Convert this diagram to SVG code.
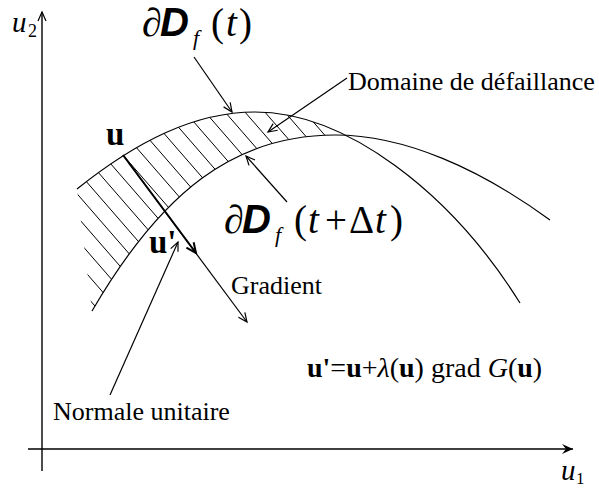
<svg xmlns="http://www.w3.org/2000/svg" width="599" height="488" viewBox="0 0 599 488">
<style>
.ln{fill:none;stroke:#000;stroke-width:1.2}
.ht{fill:none;stroke:#000;stroke-width:1}
.ax{fill:none;stroke:#000;stroke-width:1.4}
.tm{font-family:"Liberation Serif","Times New Roman",serif;fill:#000}
.sn{font-family:"Liberation Sans",Arial,sans-serif;font-style:italic;font-weight:bold}
.it{font-style:italic}
.bd{font-weight:bold}
</style>
<defs>
<marker id="ah" viewBox="-11 -6 13 12" refX="0" refY="0" markerWidth="13" markerHeight="12" orient="auto" markerUnits="userSpaceOnUse">
<path d="M-9,-4 L0,0 L-9,4" fill="none" stroke="#000" stroke-width="1.2"/>
</marker>
<marker id="ahb" viewBox="-12 -7 14 14" refX="0" refY="0" markerWidth="14" markerHeight="14" orient="auto" markerUnits="userSpaceOnUse">
<path d="M-10,-4.5 L0,0 L-10,4.5" fill="none" stroke="#000" stroke-width="2"/>
</marker>
<marker id="dart" viewBox="-12 -6 13 12" refX="0" refY="0" markerWidth="13" markerHeight="12" orient="auto" markerUnits="userSpaceOnUse">
<path d="M0,0 L-11,-5 L-7,0 L-11,5 Z" fill="#000"/>
</marker>
<clipPath id="belowA">
<path d="M77,189 C137,141 195,112 255,112 C345,112 450,191 520,303 L599,303 L599,488 L114,488 Z"/>
</clipPath>
<clipPath id="aboveB">
<path d="M92,311 C162,191 235,135 335,135 C405,135 480,169 550,220 L599,220 L599,0 L0,0 L0,311 Z"/>
</clipPath>
</defs>
<rect width="599" height="488" fill="#fff"/>

<g id="axes">
<line class="ax" x1="42" y1="471" x2="42" y2="12" marker-end="url(#ah)"/>
<line class="ax" x1="28" y1="449" x2="573" y2="449" marker-end="url(#dart)"/>
</g>

<g id="hatching" clip-path="url(#belowA)">
<g clip-path="url(#aboveB)">
<path class="ht" d="M40,-192.4 L420,244.7 M40,-169.5 L420,267.6 M40,-146.6 L420,290.5 M40,-123.7 L420,313.4 M40,-100.8 L420,336.3 M40,-77.9 L420,359.2 M40,-55 L420,382.1 M40,-32.1 L420,405 M40,-9.2 L420,427.9 M40,13.8 L420,450.8 M40,36.7 L420,473.7 M40,59.6 L420,496.6 M40,82.5 L420,519.5 M40,105.4 L420,542.4 M40,128.3 L420,565.3 M40,151.2 L420,588.2 M40,174.1 L420,611.1 M40,197 L420,634 M40,219.9 L420,656.9 M40,242.8 L420,679.8"/>
</g>
</g>

<g id="curves">
<path id="curve-t" class="ln" d="M77,189 C137,141 195,112 255,112 C345,112 450,191 520,303"/>
<path id="curve-tdt" class="ln" d="M92,311 C162,191 235,135 335,135 C405,135 480,169 550,220"/>
</g>

<g id="connectors">
<line class="ln" x1="194" y1="57" x2="232" y2="112" marker-end="url(#ah)"/>
<line class="ln" x1="347" y1="78" x2="268" y2="132" marker-end="url(#ah)"/>
<line class="ln" x1="287" y1="202" x2="246" y2="156" marker-end="url(#ah)"/>
<line class="ln" x1="123" y1="155" x2="247" y2="322" marker-end="url(#ah)"/>
<line x1="123" y1="155" x2="196" y2="253" stroke="#000" stroke-width="2" marker-end="url(#ahb)"/>
<line class="ln" x1="110" y1="395" x2="178" y2="242" marker-end="url(#ah)"/>
</g>

<g id="label-u2">
<text class="tm" x="12" y="32" font-size="29"><tspan class="it">u</tspan><tspan x="28" y="37" font-size="18">2</tspan></text>
</g>
<g id="label-u1">
<text class="tm" x="561" y="480" font-size="29"><tspan class="it">u</tspan><tspan x="576" y="484" font-size="17">1</tspan></text>
</g>

<g id="label-dDf-t">
<text class="tm" y="36" font-size="40"><tspan x="142">∂</tspan><tspan class="sn" x="160">D</tspan><tspan class="it" x="193" y="45" font-size="22">f</tspan><tspan x="211" y="36" font-size="39">(</tspan><tspan class="it" x="226" font-size="39">t</tspan><tspan x="239" font-size="39">)</tspan></text>
</g>

<g id="label-dDf-tdt">
<text class="tm" y="233" font-size="40"><tspan x="224">∂</tspan><tspan class="sn" x="242">D</tspan><tspan class="it" x="275" y="242" font-size="22">f</tspan><tspan x="294" y="233" font-size="39">(</tspan><tspan class="it" x="308" font-size="39">t</tspan><tspan x="325" font-size="39">+</tspan><tspan x="349" font-size="39">Δ</tspan><tspan class="it" x="375" font-size="39">t</tspan><tspan x="390" font-size="39">)</tspan></text>
</g>

<g id="label-domaine">
<text class="tm" x="348" y="90" font-size="26">Domaine de défaillance</text>
</g>
<g id="label-u">
<text class="tm bd" x="106" y="145" font-size="33">u</text>
</g>
<g id="label-uprime">
<text class="tm bd" x="149" y="253" font-size="33">u'</text>
</g>
<g id="label-gradient">
<text class="tm" x="231" y="294" font-size="26">Gradient</text>
</g>
<g id="label-normale">
<text class="tm" x="53" y="420" font-size="26">Normale unitaire</text>
</g>
<g id="label-formula">
<text class="tm" x="307" y="377" font-size="28"><tspan class="bd">u'</tspan>=<tspan class="bd">u</tspan>+<tspan class="it">λ</tspan>(<tspan class="bd">u</tspan>) grad <tspan class="it">G</tspan>(<tspan class="bd">u</tspan>)</text>
</g>
</svg>
